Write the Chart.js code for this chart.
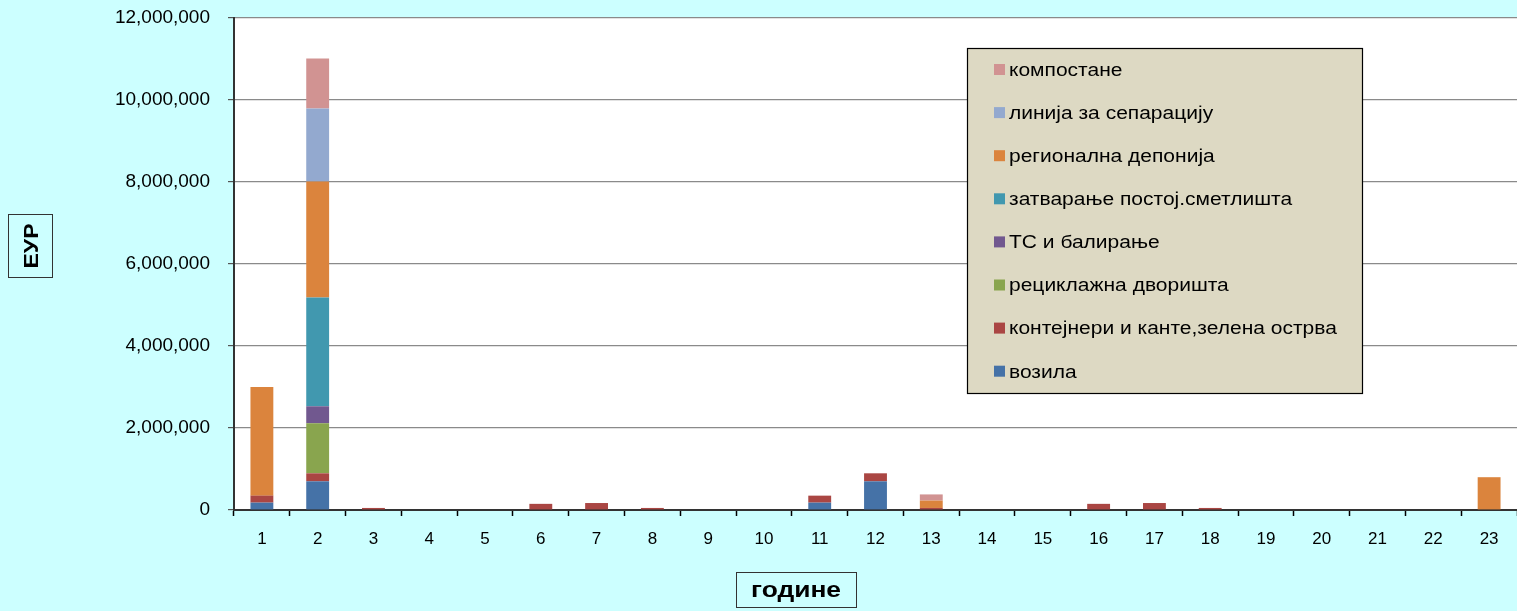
<!DOCTYPE html>
<html>
<head>
<meta charset="utf-8">
<script src="https://cdn.jsdelivr.net/npm/chart.js@4"></script>
<style>
html,body{margin:0;padding:0;background:#CCFFFF;}
canvas{display:block;}
</style>
</head>
<body>
<canvas id="c" width="1517" height="611"></canvas>
<script>
const categories = ['1','2','3','4','5','6','7','8','9','10','11','12','13','14','15','16','17','18','19','20','21','22','23'];
const yTicks = [0, 2000000, 4000000, 6000000, 8000000, 10000000, 12000000];
const vozila      = [180000,700000,0,0,0,0,0,0,0,0,180000,700000,0,0,0,0,0,0,0,0,0,0,0];
const kontejneri  = [170000,195000,50000,0,0,150000,170000,50000,0,0,170000,195000,50000,0,0,150000,170000,50000,0,0,0,0,0];
const reciklazna  = [0,1220000,0,0,0,0,0,0,0,0,0,0,0,0,0,0,0,0,0,0,0,0,0];
const tsBaliranje = [0,415000,0,0,0,0,0,0,0,0,0,0,0,0,0,0,0,0,0,0,0,0,0];
const zatvaranje  = [0,2650000,0,0,0,0,0,0,0,0,0,0,0,0,0,0,0,0,0,0,0,0,0];
const regionalna  = [2650000,2830000,0,0,0,0,0,0,0,0,0,0,180000,0,0,0,0,0,0,0,0,0,800000];
const linija      = [0,1780000,0,0,0,0,0,0,0,0,0,0,0,0,0,0,0,0,0,0,0,0,0];
const kompostane  = [0,1220000,0,0,0,0,0,0,0,0,0,0,150000,0,0,0,0,0,0,0,0,0,0];

const FONT = "'Liberation Sans', Arial, sans-serif";

function stretchText(ctx, text, x, y, sx, align) {
  ctx.save();
  ctx.translate(x, y);
  ctx.scale(sx, 1);
  ctx.textAlign = align || 'left';
  ctx.fillText(text, 0, 0);
  ctx.restore();
}

const bgPlugin = {
  id: 'bg',
  beforeDraw(chart) {
    const {ctx, chartArea: a} = chart;
    ctx.save();
    ctx.fillStyle = '#CCFFFF';
    ctx.fillRect(0, 0, chart.width, chart.height);
    ctx.fillStyle = '#FFFFFF';
    ctx.fillRect(a.left, a.top, a.right - a.left, a.bottom - a.top);
    ctx.restore();
  }
};

const decoPlugin = {
  id: 'deco',
  afterDraw(chart) {
    const ctx = chart.ctx;
    ctx.save();
    // legend box
    const lx = 967, ly = 48, lw = 395, lh = 345;
    ctx.fillStyle = '#DDD9C3';
    ctx.fillRect(lx, ly, lw, lh);
    ctx.strokeStyle = '#000';
    ctx.lineWidth = 1.2;
    ctx.strokeRect(lx + 0.5, ly + 0.5, lw, lh);
    const ds = chart.data.datasets.slice().reverse();
    ctx.font = '17.5px ' + FONT;
    ctx.textBaseline = 'middle';
    ds.forEach((d, i) => {
      const cy = 70 + i * 43.1;
      ctx.fillStyle = d.backgroundColor;
      ctx.fillRect(994, cy - 6, 11, 11);
      ctx.fillStyle = '#000';
      stretchText(ctx, d.label, 1009, cy + 1, 1.2, 'left');
    });
    // y title box
    ctx.strokeStyle = '#333';
    ctx.lineWidth = 1;
    ctx.strokeRect(8.5, 214.5, 44, 63);
    ctx.save();
    ctx.translate(31, 246);
    ctx.rotate(-Math.PI / 2);
    ctx.font = 'bold 21px ' + FONT;
    ctx.fillStyle = '#000';
    ctx.textBaseline = 'middle';
    stretchText(ctx, 'ЕУР', 0, 1, 1.1, 'center');
    ctx.restore();
    // x title box
    ctx.strokeRect(736.5, 572.5, 120, 35);
    ctx.font = 'bold 22px ' + FONT;
    ctx.fillStyle = '#000';
    ctx.textBaseline = 'middle';
    stretchText(ctx, 'године', 796, 591, 1.2, 'center');
    ctx.restore();
  }
};

const colors = ['#4572A7','#AA4643','#89A54E','#71588F','#4198AF','#DB843D','#93A9CF','#D19392'];
const labels = ['возила','контејнери и канте,зелена острва','рециклажна дворишта','ТС и балирање','затварање постој.сметлишта','регионална депонија','линија за сепарацију','компостане'];
const series = [vozila, kontejneri, reciklazna, tsBaliranje, zatvaranje, regionalna, linija, kompostane];

new Chart(document.getElementById('c'), {
  type: 'bar',
  data: {
    labels: categories,
    datasets: series.map((s, i) => ({
      label: labels[i],
      data: s,
      backgroundColor: colors[i],
      borderWidth: 0,
      barPercentage: 0.41,
      categoryPercentage: 1.0
    }))
  },
  options: {
    responsive: false,
    animation: false,
    devicePixelRatio: 1,
    layout: {padding: {top: 18, left: 0, right: 0, bottom: 0}},
    plugins: {legend: {display: false}, tooltip: {enabled: false}},
    scales: {
      x: {
        stacked: true,
        grid: {offset: true, drawOnChartArea: false, drawTicks: true, tickLength: 6, tickColor: '#000', tickWidth: 1.5},
        border: {color: '#333', width: 2},
        ticks: {color: '#000', font: {family: FONT, size: 17}, padding: 13, maxRotation: 0},
        afterFit(s) { s.height = 101; s.paddingLeft = 0; s.paddingRight = 0; }
      },
      y: {
        stacked: true,
        min: 0,
        max: 12000000,
        afterBuildTicks(s) { s.ticks = yTicks.map(v => ({value: v})); },
        ticks: {
          color: '#000',
          font: {family: FONT, size: 19},
          padding: 18,
          callback: v => Number(v).toLocaleString('en-US')
        },
        grid: {color: '#8a8a8a', lineWidth: 1.2, tickLength: 6, tickColor: '#555'},
        border: {color: '#333', width: 2},
        afterFit(s) { s.width = 234; s.paddingTop = 0; s.paddingBottom = 0; }
      }
    }
  },
  plugins: [bgPlugin, decoPlugin]
});
</script>
</body>
</html>
